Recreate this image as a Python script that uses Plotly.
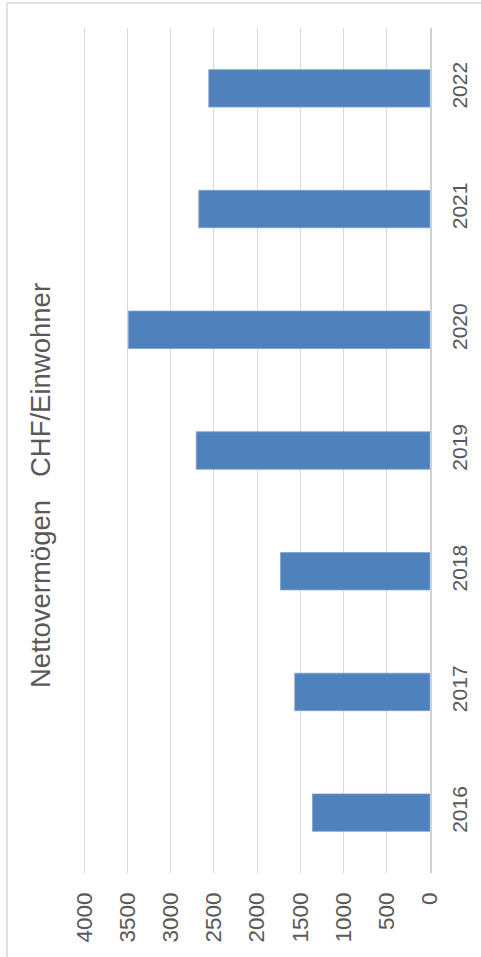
import plotly.graph_objects as go

years = ["2016", "2017", "2018", "2019", "2020", "2021", "2022"]
values = [1360, 1565, 1730, 2705, 3490, 2675, 2560]
value_ticks = [0, 500, 1000, 1500, 2000, 2500, 3000, 3500, 4000]
title_text = "Nettovermögen\u00a0\u00a0\u00a0CHF/Einwohner"

W, H = 481, 957
L, R, T, B = 83, 51, 28, 84
pw = W - L - R
ph = H - T - B

txt = "#595959"
font = "Liberation Sans, Arial, sans-serif"

fig = go.Figure(go.Bar(
    x=values, y=years, orientation="h",
    marker=dict(color="#4f81bd", line=dict(color="#7ea2d0", width=0.8)),
    width=0.31,
))

fig.update_layout(
    width=W, height=H, autosize=False,
    margin=dict(l=L, r=R, t=T, b=B, autoexpand=False),
    plot_bgcolor="white", paper_bgcolor="white",
    showlegend=False,
    font=dict(family=font, color=txt, size=21),
    xaxis=dict(
        range=[4015, 0], tickvals=value_ticks,
        ticktext=[str(v) for v in value_ticks],
        tickangle=-90, showgrid=True, gridcolor="#d9d9d9", gridwidth=1,
        zeroline=False, showline=False, ticks="", automargin=False,
        ticklabelstandoff=14,
        tickfont=dict(size=22.5, color=txt, family=font),
    ),
    yaxis=dict(
        type="category", categoryorder="array", categoryarray=years,
        side="right", tickangle=-90, showgrid=False, zeroline=False,
        showline=True, linecolor="#d0d0d0", linewidth=1.5, ticks="",
        automargin=False, ticklabelstandoff=10,
        tickfont=dict(size=21, color=txt, family=font),
    ),
    annotations=[dict(
        text=title_text, textangle=-90, showarrow=False,
        xref="paper", yref="paper",
        x=(40 - L) / pw, y=(H - B - 486) / ph,
        xanchor="center", yanchor="middle",
        font=dict(size=27.5, color=txt, family=font),
    )],
    shapes=[dict(
        type="rect", xref="paper", yref="paper",
        x0=(7 - L) / pw, x1=(W + 20 - L) / pw,
        y0=(H - B - (H + 20)) / ph, y1=(H - B - 3) / ph,
        line=dict(color="#d9d9d9", width=1.5), fillcolor="rgba(0,0,0,0)",
        layer="below",
    )],
)

fig.write_html("out.html", config={"displayModeBar": False},
               post_script="document.body.style.margin='0';")
